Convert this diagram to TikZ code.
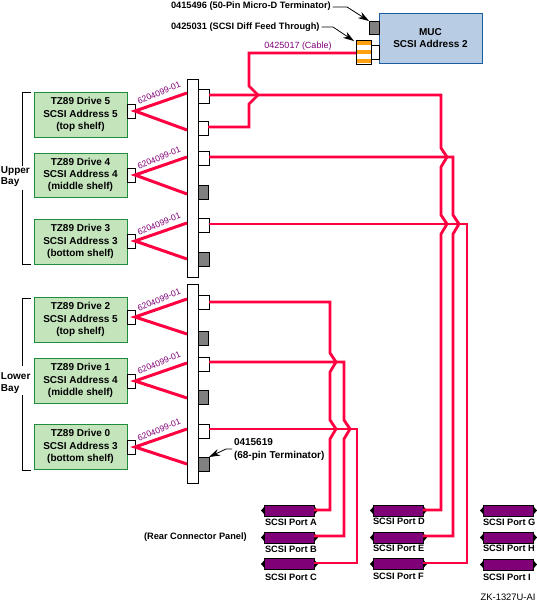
\documentclass[tikz,border=0pt]{standalone}
\usepackage{fontspec}
\setmainfont{Liberation Sans}
\usetikzlibrary{arrows.meta}
\definecolor{drivefill}{HTML}{C4E4BC}
\definecolor{driveline}{HTML}{1E8C3C}
\definecolor{mucfill}{HTML}{B8CCE4}
\definecolor{mucline}{HTML}{1A5CA0}
\definecolor{wire}{HTML}{FF0040}
\definecolor{partno}{HTML}{800078}
\definecolor{termgray}{HTML}{808080}
\definecolor{stripe}{HTML}{FFA010}
\tikzset{
  every node/.style={inner sep=0pt,outer sep=0pt},
  drivebox/.style={draw=driveline,fill=drivefill,line width=.9pt,align=center,font=\fontsize{10}{12.2}\selectfont\bfseries},
  mucbox/.style={draw=mucline,fill=mucfill,line width=.9pt,align=center,font=\fontsize{10}{12.6}\selectfont\bfseries},
  plug/.style={draw=black,fill=white,line width=.9pt},
  term/.style={draw=black,fill=termgray,line width=.9pt},
  bus/.style={draw=black,fill=white,line width=.9pt},
  scsiport/.style={draw=black,fill=partno,line width=.9pt},
  redwire/.style={draw=wire,line width=2.8pt,line join=miter,miter limit=3},
  cablewire/.style={draw=wire,line width=3pt},
  pnlabel/.style={text=partno,font=\fontsize{8.6}{10}\selectfont},
  blabel/.style={font=\fontsize{9.25}{11}\selectfont\bfseries,text=black},
  callout/.style={draw=black,line width=.8pt,-{Stealth[length=11pt,width=7pt]}},
  bracket/.style={draw=black,line width=.9pt}
}
% style, name, x1, y1, x2, y2, text
\newcommand\rectnode[7]{\node[#1,anchor=north west,minimum width={(#5-#3)*1pt},minimum height={(#6-#4)*1pt}] (#2) at (#3,#4) {#7};}
\newcommand\hopw[2]{-- (#1,#2-9) -- (#1+6,#2) -- (#1,#2+10)}
\newcommand\portnode[5]{%
  \fill[black] (#2-3,#3+5.5) -- (#2+1,#3+1) -- (#2+1,#3+10) -- cycle;
  \fill[black] (#2+54,#3+5.5) -- (#2+50,#3+1) -- (#2+50,#3+10) -- cycle;
  \rectnode{scsiport}{#1}{#2}{#3}{#2+50}{#3+11}{}
  \node[blabel,anchor=west] (#1t) at (#4,#5) {SCSI Port \MakeUppercase{#1}};}
\begin{document}
\begin{tikzpicture}[x=1pt,y=-1pt]
\useasboundingbox (0,0) rectangle (536,602);
% drives
\rectnode{drivebox}{d5}{34}{92}{127}{137}{TZ89 Drive 5\\SCSI Address 5\\(top shelf)}
\rectnode{drivebox}{d4}{34}{153}{127}{197}{TZ89 Drive 4\\SCSI Address 4\\(middle shelf)}
\rectnode{drivebox}{d3}{34}{219}{127}{264}{TZ89 Drive 3\\SCSI Address 3\\(bottom shelf)}
\rectnode{drivebox}{d2}{34}{297}{127}{342}{TZ89 Drive 2\\SCSI Address 5\\(top shelf)}
\rectnode{drivebox}{d1}{34}{358}{127}{403}{TZ89 Drive 1\\SCSI Address 4\\(middle shelf)}
\rectnode{drivebox}{d0}{34}{424}{127}{469}{TZ89 Drive 0\\SCSI Address 3\\(bottom shelf)}
% drive connectors
\rectnode{plug}{c5}{127}{104}{135}{118}{}
\rectnode{plug}{c4}{127}{168}{135}{182}{}
\rectnode{plug}{c3}{127}{234}{135}{248}{}
\rectnode{plug}{c2}{127}{310}{135}{324}{}
\rectnode{plug}{c1}{127}{374}{135}{388}{}
\rectnode{plug}{c0}{127}{440}{135}{454}{}
% buses
\rectnode{bus}{busU}{187}{79}{198}{277}{}
\rectnode{bus}{busL}{187}{284}{198}{483}{}
% bus ports
\rectnode{plug}{u1}{198}{89}{209}{103}{}
\rectnode{plug}{u2}{198}{121}{208}{135}{}
\rectnode{plug}{u3}{198}{151}{209}{165}{}
\rectnode{term}{u4}{198}{185}{208}{199}{}
\rectnode{plug}{u5}{198}{218}{209}{232}{}
\rectnode{term}{u6}{198}{252}{209}{266}{}
\rectnode{plug}{l1}{198}{295}{209}{309}{}
\rectnode{term}{l2}{198}{331}{208}{345}{}
\rectnode{plug}{l3}{198}{357}{209}{371}{}
\rectnode{term}{l4}{198}{390}{208}{404}{}
\rectnode{plug}{l5}{198}{424}{209}{438}{}
\rectnode{term}{l6}{198}{457}{209}{471}{}
% wedge cables
\foreach \c/\b/\ya/\yb in {c5/busU/93/130,c4/busU/157/194,c3/busU/223/259,c2/busL/299/334,c1/busL/363/398,c0/busL/429/464}{
  \draw[cablewire] (\b.west |- 0,\ya) -- (\c.east) -- (\b.west |- 0,\yb);
}
% part numbers on wedges
\foreach \n/\xx/\yy in {a/159/93,b/159/158,c/159/224,d/159/300,e/159/363,f/159/430}{
  \node[pnlabel,rotate=23] (pn\n) at (\xx,\yy) {6204099-01};
}
% MUC
\rectnode{mucbox}{muc}{379}{13}{482}{63}{MUC\\SCSI Address 2}
\rectnode{term}{mterm}{369}{21}{379}{34}{}
\rectnode{plug}{mplug}{371}{45}{379}{59}{}
\rectnode{plug}{feed}{356}{40}{371}{64}{}
\fill[stripe] (357,41) rectangle (370.5,45);
\fill[stripe] (357,50) rectangle (370.5,54);
\fill[stripe] (357,59) rectangle (370.5,63.5);
% ports
\portnode{a}{264}{505}{265}{522}
\portnode{b}{264}{532}{265}{549}
\portnode{c}{264}{558.5}{265}{577}
\portnode{d}{373}{505}{373}{521}
\portnode{e}{373}{532}{373}{548}
\portnode{f}{373}{558.5}{373}{576}
\portnode{g}{483}{505}{483}{522}
\portnode{h}{483}{532}{483}{548}
\portnode{i}{483}{559}{483}{577}
% wires
\draw[redwire] (u2.east |- 0,127) -- (249,127) -- (249,104) -- (258,95) -- (249,86) -- (249,53) -- (feed.west |- 0,53);
\draw[redwire] (u1.east |- 0,95) -- (441,95) \hopw{441}{157} \hopw{441}{224} -- (441,510) -- (d.east |- 0,510);
\draw[redwire] (u3.east |- 0,157) -- (453,157) \hopw{453}{224} -- (453,536) -- (e.east |- 0,536);
\draw[redwire] (u5.east |- 0,224) -- (467,224) -- (467,563) -- (f.east |- 0,563);
\draw[redwire] (l1.east |- 0,302) -- (330,302) \hopw{330}{362} \hopw{330}{429} -- (330,510) -- (a.east |- 0,510);
\draw[redwire] (l3.east |- 0,362) -- (344,362) \hopw{344}{429} -- (344,536) -- (b.east |- 0,536);
\draw[redwire] (l5.east |- 0,429) -- (357,429) -- (357,563) -- (c.east |- 0,563);
% texts
\node[pnlabel,anchor=center,font=\fontsize{9}{10}\selectfont] (cablet) at (298,46) {0425017 (Cable)};
\node[blabel,anchor=west] (t1) at (171,6) {0415496 (50-Pin Micro-D Terminator)};
\node[blabel,anchor=west] (t2) at (171,27) {0425031 (SCSI Diff Feed Through)};
\coordinate (e1) at (347,7);
\coordinate (e2) at (333,27);
\draw[callout] (t1.east) ++(2,1) -- (e1) -- (mterm.north west);
\draw[callout] (t2.east) ++(2,0) -- (e2) -- (354,41);
\node[blabel,anchor=west,font=\fontsize{10}{11}\selectfont\bfseries] (t3) at (234,442) {0415619};
\node[blabel,anchor=west,font=\fontsize{10}{11}\selectfont\bfseries] (t4) at (234,456) {(68-pin Terminator)};
\coordinate (e3) at (232,449);
\coordinate (e4) at (226,449);
\draw[callout] (e3) -- (e4) -- (l6.north east);
\node[blabel,anchor=west] (rear) at (144,537) {(Rear Connector Panel)};
\node[anchor=east,font=\fontsize{9.4}{11}\selectfont] (zk) at (535.5,597) {ZK-1327U-AI};
\node[blabel,anchor=west,align=left,font=\fontsize{10}{11.6}\selectfont\bfseries] (up) at (1,176.5) {Upper\\Bay};
\node[blabel,anchor=west,align=left,font=\fontsize{10}{11.6}\selectfont\bfseries] (lo) at (1,383) {Lower\\Bay};
% brackets
\draw[bracket] (31,92) -- (22,92) -- (22,166);
\draw[bracket] (22,190) -- (22,264) -- (31,264);
\draw[bracket] (31,298) -- (22,298) -- (22,366);
\draw[bracket] (22,395) -- (22,470) -- (31,470);
\end{tikzpicture}
\end{document}
